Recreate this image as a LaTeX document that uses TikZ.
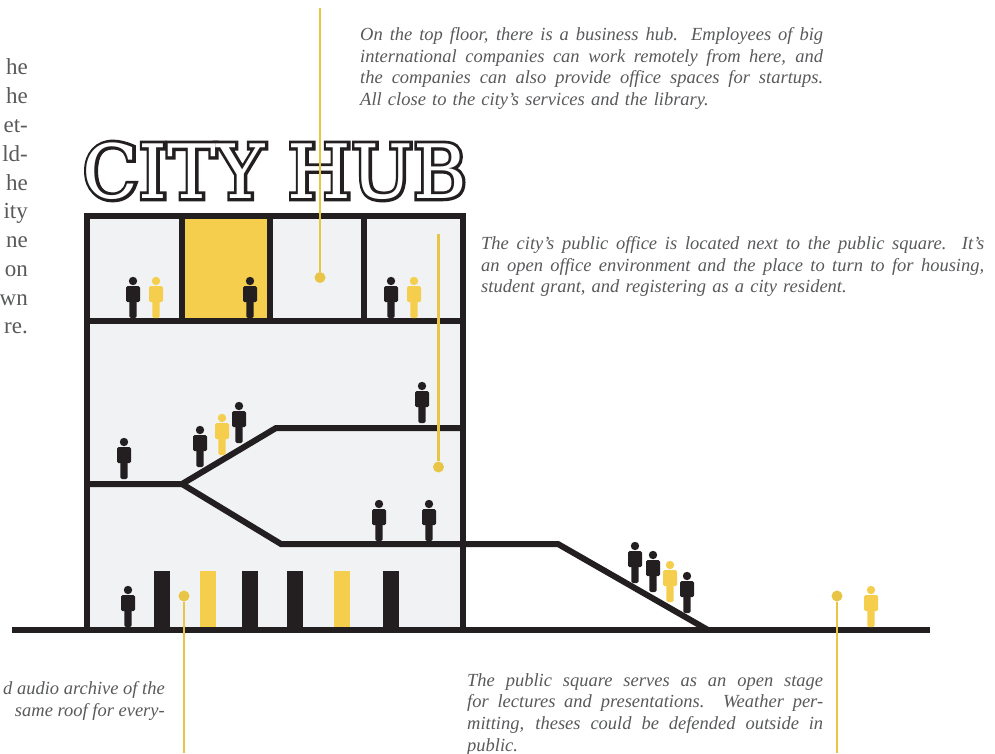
\documentclass[tikz,border=0pt]{standalone}
\usepackage{fontspec}
\usepackage{xcolor}
\setmainfont{Liberation Serif}
\newfontfamily\titlefont{DejaVu Serif}
\newfontfamily\titlestroke[FakeBold=8]{DejaVu Serif}

\definecolor{hubblack}{HTML}{231F20}
\definecolor{hubyellow}{HTML}{F5CE4D}
\definecolor{hubline}{HTML}{E8C547}
\definecolor{hubgrey}{HTML}{F1F2F4}
\definecolor{hubtext}{HTML}{58595B}

\newcommand{\jline}[1]{\leavevmode\hbox to \hsize{\spaceskip=0pt\xspaceskip=0pt #1}\\}

\tikzset{
    wall/.style={hubblack, line width=6pt, line join=miter},
    leader/.style={hubline, line width=2.8pt},
    leaderdot/.style={circle, fill=hubline, inner sep=0pt, minimum size=11pt},
    note/.style={anchor=north west, inner sep=0pt, text=hubtext, align=left,
        font=\fontsize{18.5}{21.8}\selectfont\itshape},
    margintext/.style={anchor=base east, inner sep=0pt, text=hubtext,
        font=\fontsize{23}{23}\selectfont},
    person/.pic={
        \fill[pic actions] (0,-37) circle[radius=4.2];
        \fill[pic actions, rounded corners=1.5pt] (-7,-32) rectangle (7,-16);
        \fill[pic actions, rounded corners=1.5pt] (-3.6,-20) rectangle (3.6,0);
    }
}

\begin{document}
\begin{tikzpicture}[x=1pt, y=-1pt]
    \useasboundingbox (0,0) rectangle (995,753);

    % Cut off column on the left
    \foreach \ypos/\word in {74/he,103/he,132/et-,161/ld-,190/he,218/ity,247/ne,276/on,305/wn,333/re.} {
      \node[margintext] (margin-\word-\ypos) at (28,\ypos) {\word};
    }

    % Title, a heavy layer with a white one on top
    \node[inner sep=0pt, text=hubblack, xscale=0.975, font=\fontsize{75}{75}\titlestroke] (titleback) at (275,171) {CITY HUB};
    \node[inner sep=0pt, text=white, xscale=0.975, font=\fontsize{75}{75}\titlefont] (title) at (275,171) {CITY HUB};

    % Building
    \fill[hubgrey] (87,215.5) rectangle (463,630);
    \fill[hubyellow] (182,215.5) rectangle (269.5,321);

    % Archive shelves
    \foreach \xpos/\col in {154/hubblack,200/hubyellow,242/hubblack,287/hubblack,334/hubyellow,383/hubblack} {
      \fill[\col] (\xpos,571) rectangle (\xpos+16,628);
    }

    \draw[wall] (87,630) -- (87,215.5) -- (463,215.5) -- (463,630);
    \draw[wall] (87,321) -- (463,321);
    \foreach \xpos in {182,269.5,363.5} {
      \draw[wall] (\xpos,215.5) -- (\xpos,321);
    }
    \draw[wall] (87,484) -- (182,484) -- (276,428) -- (463,428);
    \draw[wall] (182,484) -- (281,544) -- (558,544) -- (708,630);
    \draw[wall] (12,630) -- (930,630);

    % People
    \foreach \xpos/\ypos in {133/318,250/318,391/318,422/423,124/479,200/467,239/443,379/541,429/541,128/627,635/583,653/592,687/613} {
      \pic[fill=hubblack] at (\xpos,\ypos) {person};
    }
    \foreach \xpos/\ypos in {156/318,414/318,222/455,670/602,871/627} {
      \pic[fill=hubyellow] at (\xpos,\ypos) {person};
    }

    % Leaders
    \coordinate (hubtop) at (320,8);
    \coordinate (officetop) at (438.5,234);
    \coordinate (archiveend) at (184,753);
    \coordinate (squareend) at (837,753);
    \node[leaderdot] (hubdot) at (320,277.5) {};
    \node[leaderdot] (officedot) at (438.5,467) {};
    \node[leaderdot] (archivedot) at (184,596) {};
    \node[leaderdot] (squaredot) at (837,596) {};
    \draw[leader] (hubtop) -- (hubdot);
    \draw[leader] (officetop) -- (officedot);
    \draw[leader] (archivedot) -- (archiveend);
    \draw[leader] (squaredot) -- (squareend);

    % Notes
    \node[note, text width=463pt] (hubnote) at (360,27) {%
      \jline{On the top floor, there is a business hub.  Employees of big}
      \jline{international companies can work remotely from here, and}
      \jline{the companies can also provide office spaces for startups.}
      All close to the city's services and the library.};
    \node[note, text width=503pt] (officenote) at (481,236) {%
      \jline{The city's public office is located next to the public square. It's}
      \jline{an open office environment and the place to turn to for housing,}
      student grant, and registering as a city resident.};
    \node[note, text width=356pt] (squarenote) at (467,673) {%
      \jline{The public square serves as an open stage}
      \jline{for lectures and presentations. Weather per-}
      \jline{mitting, theses could be defended outside in}
      public.};
    \node[note, anchor=north east, align=right] (archivenote) at (165,681) {%
      d audio archive of the\\
      same roof for every-};
\end{tikzpicture}
\end{document}
